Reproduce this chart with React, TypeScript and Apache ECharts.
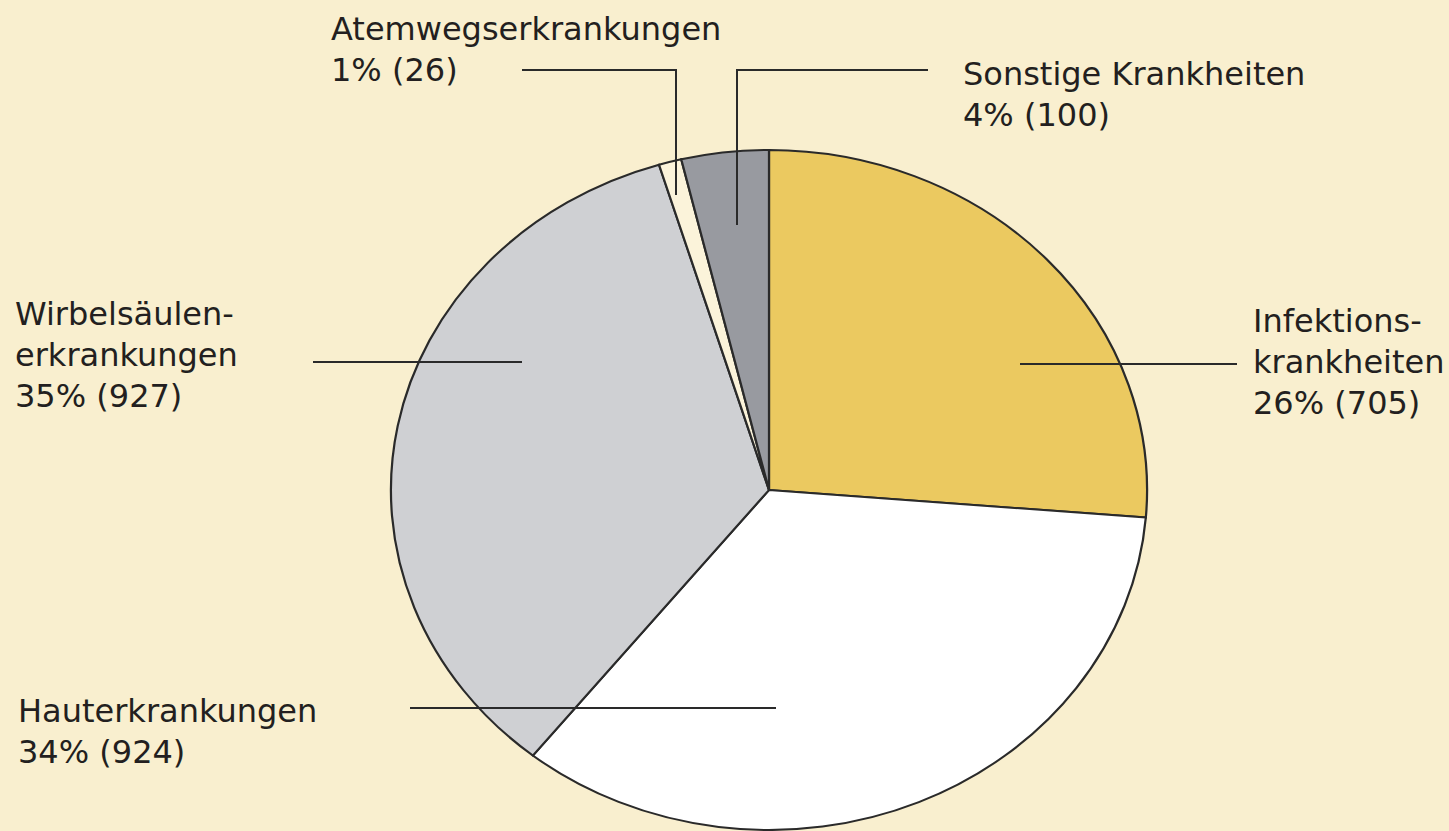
import React, { useEffect, useRef } from "react";
import * as echarts from "echarts";

const categories = [
  "Infektionskrankheiten",
  "Hauterkrankungen",
  "Wirbelsäulenerkrankungen",
  "Atemwegserkrankungen",
  "Sonstige Krankheiten",
];
const labelNames = [
  "Infektions-\nkrankheiten",
  "Hauterkrankungen",
  "Wirbelsäulen-\nerkrankungen",
  "Atemwegserkrankungen",
  "Sonstige Krankheiten",
];
const values = [705, 924, 927, 26, 100];
const percents = [26, 34, 35, 1, 4];

const sliceColors = ["#EBC960", "#FFFFFF", "#CFD0D3", "#FBF3DA", "#989AA0"];

// label layout (positions only)
const labelPos = [
  [1253, 300],
  [18, 690],
  [15, 293],
  [331, 8],
  [963, 53],
];
const leaderLines = [
  [[1020, 364], [1237, 364]],
  [[410, 708], [776, 708]],
  [[313, 362], [522, 362]],
  [[522, 70], [676, 70], [676, 195]],
  [[928, 70], [737, 70], [737, 225]],
];

const CX = 769;
const CY = 490;
const RY = 340;
const SX = 378 / 340;

export default function App() {
  const ref = useRef<HTMLDivElement>(null);
  useEffect(() => {
    document.body.style.margin = "0";
    const chart = echarts.init(ref.current!, null, { renderer: "svg" });
    const total = values.reduce((a, b) => a + b, 0);
    const font = "'DejaVu Sans', sans-serif";
    const graphics: any[] = [];
    leaderLines.forEach((pts) => {
      graphics.push({
        type: "polyline",
        z: 10,
        shape: { points: pts },
        style: { stroke: "#2a2a2a", lineWidth: 2, fill: null },
      });
    });
    labelNames.forEach((n, i) => {
      graphics.push({
        type: "text",
        z: 10,
        x: labelPos[i][0],
        y: labelPos[i][1],
        style: {
          text: `${n}\n${percents[i]}% (${values[i]})`,
          font: `32px ${font}`,
          fill: "#231F20",
          lineHeight: 41,
          textVerticalAlign: "top",
        },
      });
    });
    chart.setOption({
      animation: false,
      backgroundColor: "#F9EFCF",
      graphic: graphics,
      series: [
        {
          type: "custom",
          coordinateSystem: "none",
          data: values.map((v, i) => ({ name: categories[i], value: v })),
          renderItem: (params: any) => {
            const i = params.dataIndex;
            let cum = 0;
            for (let k = 0; k < i; k++) cum += values[k];
            const a0 = -Math.PI / 2 + (cum / total) * Math.PI * 2;
            const a1 = -Math.PI / 2 + ((cum + values[i]) / total) * Math.PI * 2;
            return {
              type: "sector",
              x: CX,
              y: CY,
              scaleX: SX,
              shape: { cx: 0, cy: 0, r: RY, r0: 0, startAngle: a0, endAngle: a1, clockwise: true },
              style: {
                fill: sliceColors[i],
                stroke: "#2a2a2a",
                lineWidth: 2,
                strokeNoScale: true,
              },
            };
          },
        },
      ],
    });
    return () => chart.dispose();
  }, []);
  return (
    <div
      ref={ref}
      style={{ position: "fixed", left: 0, top: 0, width: 1449, height: 831 }}
    />
  );
}
